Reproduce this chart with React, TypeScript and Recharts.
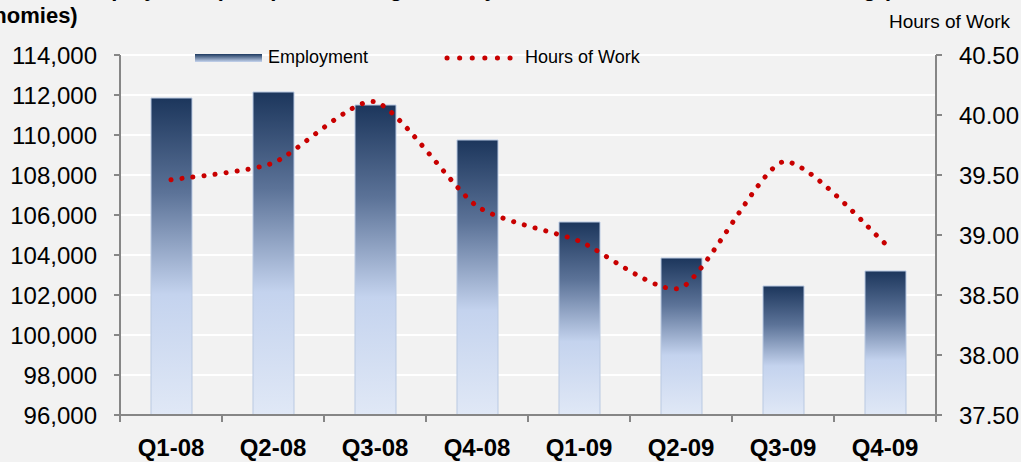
import { ComposedChart, Bar, Line, XAxis, YAxis, CartesianGrid } from "recharts";

const quarters = ["Q1-08", "Q2-08", "Q3-08", "Q4-08", "Q1-09", "Q2-09", "Q3-09", "Q4-09"];
const employment = [111850, 112150, 111500, 109750, 105650, 103850, 102450, 103200];
const hoursOfWork = [39.46, 39.6, 40.11, 39.24, 38.95, 38.56, 39.61, 38.93];
const employmentTicks = [96000, 98000, 100000, 102000, 104000, 106000, 108000, 110000, 112000, 114000];
const hoursTicks = [37.5, 38, 38.5, 39, 39.5, 40, 40.5];

const data = quarters.map((q, i) => ({ quarter: q, employment: employment[i], hours: hoursOfWork[i] }));

const FONT = "'Liberation Sans', Arial, sans-serif";
const AXIS = "#868686";

// excel-style smoothing: bezier through the points with short handles
const SMOOTH = 0.11;
const smoothCurve = (context: any) => {
  let pts: number[][] = [];
  return {
    areaStart() {},
    areaEnd() {},
    lineStart() {
      pts = [];
    },
    point(x: number, y: number) {
      pts.push([+x, +y]);
    },
    lineEnd() {
      if (!pts.length) return;
      context.moveTo(pts[0][0], pts[0][1]);
      for (let i = 0; i < pts.length - 1; i++) {
        const p0 = pts[i - 1] || pts[i];
        const p1 = pts[i];
        const p2 = pts[i + 1];
        const p3 = pts[i + 2] || p2;
        context.bezierCurveTo(
          p1[0] + (p2[0] - p0[0]) * SMOOTH,
          p1[1] + (p2[1] - p0[1]) * SMOOTH,
          p2[0] - (p3[0] - p1[0]) * SMOOTH,
          p2[1] - (p3[1] - p1[1]) * SMOOTH,
          p2[0],
          p2[1]
        );
      }
    },
  };
};

const QuarterTick = (props: any) => {
  const { x, y, payload, index } = props;
  const half = 51;
  return (
    <g>
      <line x1={x - half} y1={y} x2={x - half} y2={y + 7} stroke={AXIS} strokeWidth={2} />
      {index === quarters.length - 1 && (
        <line x1={x + half} y1={y} x2={x + half} y2={y + 7} stroke={AXIS} strokeWidth={2} />
      )}
      <text x={x} y={y + 41} textAnchor="middle" fontWeight="bold" fontSize={24} fill="#000" fontFamily={FONT}>
        {payload.value}
      </text>
    </g>
  );
};

const App = () => {
  return (
    <div
      style={{
        position: "absolute",
        left: 0,
        top: 0,
        width: 1021,
        height: 462,
        background: "#f2f2f2",
        overflow: "hidden",
        fontFamily: FONT,
      }}
    >
      <div style={{ position: "absolute", left: 77, top: -24, fontSize: 22, fontWeight: "bold", whiteSpace: "nowrap" }}>
        Employment (000s) and Average Weekly Hours of Work in the Manufacturing (
      </div>
      <div style={{ position: "absolute", left: -47, top: 3, fontSize: 22, fontWeight: "bold", whiteSpace: "nowrap" }}>
        Economies)
      </div>
      <div style={{ position: "absolute", left: 889, top: 11, fontSize: 19, whiteSpace: "nowrap" }}>Hours of Work</div>

      {/* legend */}
      <div style={{ position: "absolute", left: 195, top: 47, display: "flex", alignItems: "center", fontSize: 18, zIndex: 2 }}>
        <svg width={67} height={8}>
          <defs>
            <linearGradient id="legGrad" x1="0" y1="0" x2="0" y2="1">
              <stop offset="0%" stopColor="#1e3a60" />
              <stop offset="100%" stopColor="#c5d4ee" />
            </linearGradient>
          </defs>
          <rect x={0} y={0} width={67} height={8} fill="url(#legGrad)" />
        </svg>
        <span style={{ marginLeft: 6 }}>Employment</span>
        <svg width={70} height={10} style={{ marginLeft: 76 }}>
          <line x1={3} y1={5} x2={67} y2={5} stroke="#c80000" strokeWidth={5} strokeDasharray="0.1 12.5" strokeLinecap="round" />
        </svg>
        <span style={{ marginLeft: 11 }}>Hours of Work</span>
      </div>

      <ComposedChart
        width={1021}
        height={462}
        data={data}
        margin={{ top: 55, right: 0, bottom: 0, left: 0 }}
        style={{ fontFamily: FONT }}
      >
        <defs>
          <linearGradient id="empGrad" x1="0" y1="0" x2="0" y2="1">
            <stop offset="0%" stopColor="#1c365c" />
            <stop offset="30%" stopColor="#5c7398" />
            <stop offset="62%" stopColor="#c4d3ee" />
            <stop offset="100%" stopColor="#e0e8f6" />
          </linearGradient>
        </defs>
        <CartesianGrid yAxisId="left" vertical={false} stroke="#ffffff" strokeWidth={2} />
        <XAxis
          dataKey="quarter"
          height={47}
          axisLine={{ stroke: AXIS, strokeWidth: 2 }}
          tickLine={false}
          tickSize={0}
          tickMargin={0}
          tick={<QuarterTick />}
          interval={0}
        />
        <YAxis
          yAxisId="left"
          width={120}
          domain={[96000, 114000]}
          ticks={employmentTicks}
          tickFormatter={(v: number) => v.toLocaleString("en-US")}
          axisLine={{ stroke: AXIS, strokeWidth: 2 }}
          tickLine={{ stroke: AXIS, strokeWidth: 2 }}
          tickSize={6}
          tickMargin={17}
          tick={{ fill: "#000", fontSize: 24 }}
          allowDataOverflow
        />
        <YAxis
          yAxisId="right"
          orientation="right"
          width={85}
          domain={[37.5, 40.5]}
          ticks={hoursTicks}
          tickFormatter={(v: number) => v.toFixed(2)}
          axisLine={{ stroke: AXIS, strokeWidth: 2 }}
          tickLine={{ stroke: AXIS, strokeWidth: 2 }}
          tickSize={6}
          tickMargin={17}
          tick={{ fill: "#000", fontSize: 24 }}
          allowDataOverflow
        />
        <Bar
          yAxisId="left"
          dataKey="employment"
          barSize={41}
          fill="url(#empGrad)"
          stroke="#b9c9e2"
          strokeWidth={1}
          isAnimationActive={false}
        />
        <Line
          yAxisId="right"
          type={smoothCurve as any}
          dataKey="hours"
          stroke="#c80000"
          strokeWidth={5}
          strokeDasharray="0.1 11"
          strokeLinecap="round"
          dot={false}
          activeDot={false}
          isAnimationActive={false}
        />
      </ComposedChart>
    </div>
  );
};

export default App;
